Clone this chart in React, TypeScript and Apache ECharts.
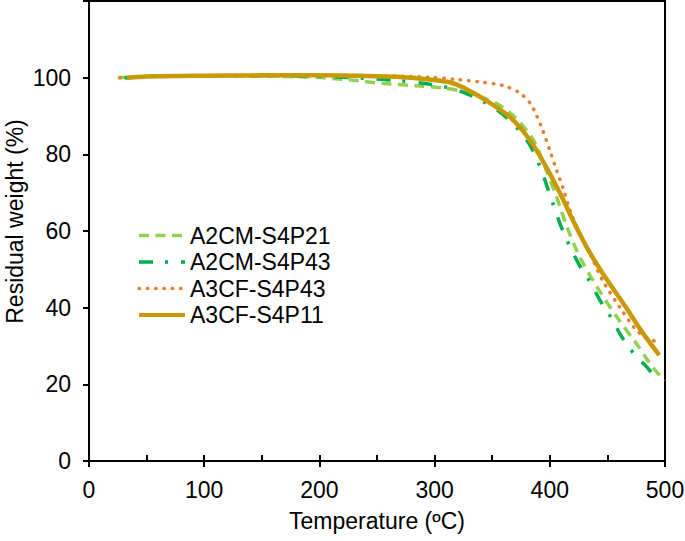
import React, { useEffect, useRef } from "react";
import * as echarts from "echarts";

const seriesNames = ["A2CM-S4P21", "A2CM-S4P43", "A3CF-S4P43", "A3CF-S4P11"];

const tempS4P21 = [25, 50, 100, 150, 195, 227, 255, 284, 308, 327, 354, 371, 386, 397, 406, 415, 426, 441, 458, 475, 490, 500];
const valS4P21 = [100.0, 100.3, 100.5, 100.4, 100.1, 99.4, 98.5, 97.9, 97.3, 96.2, 93.2, 89.3, 83.6, 75.8, 68.8, 61.0, 53.2, 45.4, 37.6, 30.7, 24.2, 21.0];

const tempA2S4P43 = [31, 50, 100, 150, 200, 240, 270, 293, 310, 328, 345, 359, 373.5, 383, 391.5, 397.3, 403.6, 410, 417, 425.3, 435, 443.6, 453.7, 462.4, 474, 484, 490];
const valA2S4P43 = [99.9, 100.3, 100.5, 100.5, 100.3, 99.8, 99.2, 98.4, 97.5, 95.8, 93.3, 90.5, 86.2, 82.3, 76.8, 71.9, 66.4, 61.0, 56.2, 51.3, 46.7, 41.9, 37.2, 32.4, 27.6, 24.6, 22.4];

const tempA3S4P43 = [27, 50, 100, 150, 200, 250, 296, 320, 339, 360, 374, 383, 388.6, 394, 400, 406, 411.7, 417.5, 426, 435, 446, 461, 475, 481, 487, 493];
const valA3S4P43 = [100.0, 100.3, 100.5, 100.6, 100.6, 100.5, 100.1, 99.5, 98.9, 97.9, 96.0, 93.3, 90.1, 86.2, 81.0, 75.8, 71.0, 65.4, 59.4, 54.0, 47.0, 40.0, 34.1, 32.8, 31.7, 31.1];

const tempS4P11 = [33, 50, 100, 150, 200, 250, 270, 296, 313, 325, 345, 365.5, 383, 397, 409, 420, 432, 446, 464, 481, 495];
const valS4P11 = [100.0, 100.3, 100.5, 100.6, 100.6, 100.4, 100.2, 99.5, 98.8, 97.4, 94.0, 89.7, 83.6, 76.6, 69.8, 62.8, 55.8, 48.9, 41.0, 33.3, 27.6];

const xTicks = [0, 100, 200, 300, 400, 500];
const yTicks = [0, 20, 40, 60, 80, 100];

const FONT = "'Liberation Sans', Arial, sans-serif";

function pairs(t: number[], v: number[]) {
  return t.map((x, i) => [x, v[i]]);
}

export default function App() {
  const ref = useRef<HTMLDivElement>(null);
  useEffect(() => {
    if (!ref.current) return;
    const chart = echarts.init(ref.current, null, { renderer: "svg" });
    const common = {
      type: "line",
      showSymbol: false,
      symbol: "none",
      smooth: 0.3,
      clip: false,
    };
    const legendWidths = [3.5, 3.5, 3.5, 4];
    chart.setOption({
      animation: false,
      backgroundColor: "#fff",
      textStyle: { fontFamily: FONT, color: "#000" },
      grid: {
        left: 89,
        right: 20,
        top: 1,
        bottom: 80,
        containLabel: false,
        outerBoundsMode: "none",
        show: true,
        borderColor: "#000",
        borderWidth: 2,
        backgroundColor: "transparent",
      },
      legend: {
        orient: "vertical",
        left: 132,
        top: 219,
        itemWidth: 46,
        itemHeight: 14,
        itemGap: 3.5,
        data: seriesNames.map((n, i) => ({ name: n, lineStyle: { width: legendWidths[i] } })),
        itemStyle: { opacity: 0 },
        textStyle: { fontFamily: FONT, fontSize: 23, color: "#000", lineHeight: 23 },
      },
      xAxis: [
        {
          type: "value",
          min: xTicks[0],
          max: xTicks[xTicks.length - 1],
          interval: 100,
          position: "bottom",
          name: "Temperature (ºC)",
          nameLocation: "middle",
          nameGap: 48,
          nameMoveOverlap: false,
          nameTextStyle: { fontFamily: FONT, fontSize: 23, color: "#000" },
          axisLine: { show: true, lineStyle: { color: "#000", width: 2 } },
          axisTick: { show: true, inside: false, length: 6, lineStyle: { color: "#000", width: 2 } },
          axisLabel: { fontFamily: FONT, fontSize: 23, color: "#000", margin: 17 },
          splitLine: { show: false },
        },
        {
          type: "value",
          min: 0,
          max: 500,
          interval: 50,
          position: "bottom",
          axisLine: { show: false },
          axisTick: { show: true, inside: true, length: 6, lineStyle: { color: "#000", width: 2 } },
          axisLabel: { show: false },
          splitLine: { show: false },
        },
      ],
      yAxis: {
        type: "value",
        min: 0,
        max: 120,
        interval: 20,
        name: "Residual weight (%)",
        nameLocation: "middle",
        nameGap: 63,
        nameMoveOverlap: false,
        nameTextStyle: { fontFamily: FONT, fontSize: 23, color: "#000", padding: [0, 0, 0, 19] },
        axisLine: { show: true, lineStyle: { color: "#000", width: 2 } },
        axisTick: { show: true, inside: false, length: 6, lineStyle: { color: "#000", width: 2 } },
        axisLabel: {
          fontFamily: FONT,
          fontSize: 23,
          color: "#000",
          margin: 18,
          formatter: (v: number) => (yTicks.indexOf(v) >= 0 ? String(v) : ""),
        },
        splitLine: { show: false },
      },
      series: [
        {
          ...common,
          name: seriesNames[0],
          data: pairs(tempS4P21, valS4P21),
          color: "#92D050",
          lineStyle: { color: "#92D050", width: 3.5, type: [10, 6.5] },
          z: 2,
        },
        {
          ...common,
          name: seriesNames[1],
          data: pairs(tempA2S4P43, valA2S4P43),
          color: "#00B050",
          lineStyle: { color: "#00B050", width: 3.5, type: [14, 12, 3, 13] },
          z: 3,
        },
        {
          ...common,
          name: seriesNames[2],
          data: pairs(tempA3S4P43, valA3S4P43),
          color: "#ED7D31",
          lineStyle: { color: "#ED7D31", width: 3.5, type: [0.5, 7.8], cap: "round" },
          z: 4,
        },
        {
          ...common,
          name: seriesNames[3],
          data: pairs(tempS4P11, valS4P11),
          color: "#C89A08",
          lineStyle: { color: "#C89A08", width: 4.5 },
          z: 5,
        },
      ],
    });
    return () => chart.dispose();
  }, []);
  return (
    <div
      ref={ref}
      style={{ position: "fixed", left: 0, top: 0, width: 685, height: 541, background: "#fff" }}
    />
  );
}
